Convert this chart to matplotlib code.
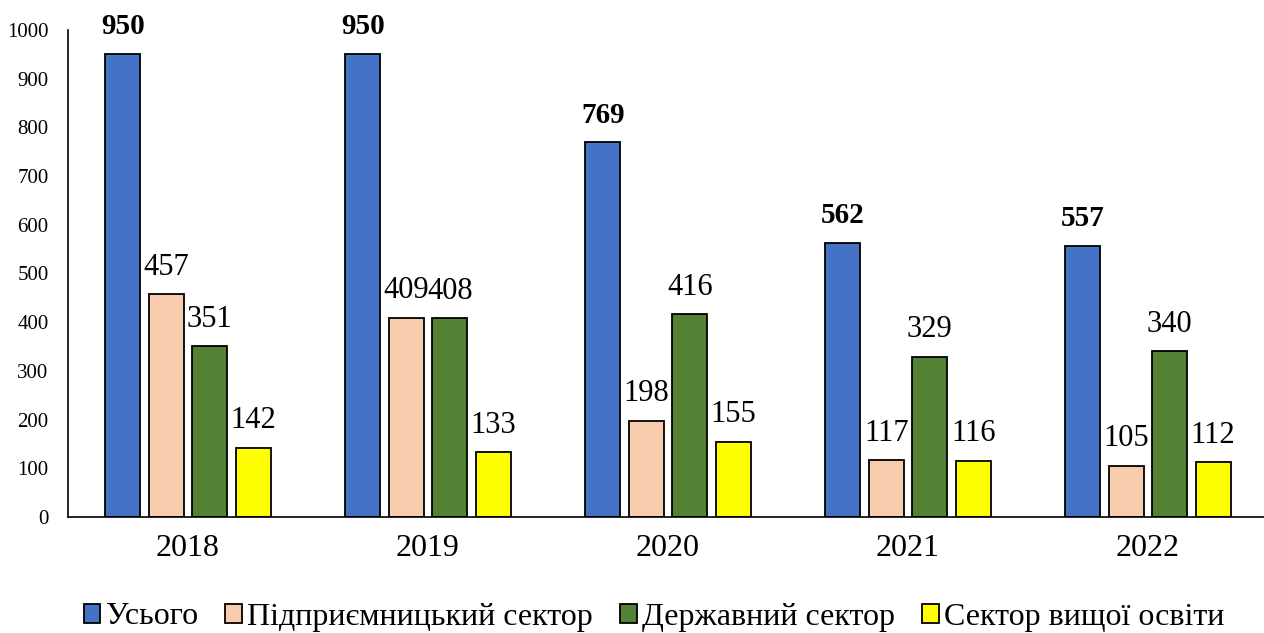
import numpy as np
import matplotlib.pyplot as plt

plt.rcParams['font.family'] = ['Liberation Serif', 'DejaVu Serif']

years = ['2018', '2019', '2020', '2021', '2022']
total = [950, 950, 769, 562, 557]
business = [457, 409, 198, 117, 105]
government = [351, 408, 416, 329, 340]
higher_ed = [142, 133, 155, 116, 112]

series = [
    ('Усього', total, '#4472C4'),
    ('Підприємницький сектор', business, '#F8CBAD'),
    ('Державний сектор', government, '#548235'),
    ('Сектор вищої освіти', higher_ed, '#FFFF00'),
]

fig = plt.figure(figsize=(12.64, 6.33), dpi=100)
ax = fig.add_axes([68 / 1264, 116 / 633, 1200 / 1264, 487 / 633])

x = np.arange(len(years))
pitch = 0.181
width = 0.146
for i, (name, vals, col) in enumerate(series):
    pos = x + (i - 1.5) * pitch
    bars = ax.bar(pos, vals, width, color=col, edgecolor='black', linewidth=1.3, label=name)
    if i == 0:
        ax.bar_label(bars, padding=10, fontsize=21, fontweight='bold')
    else:
        ax.bar_label(bars, padding=9, fontsize=22)

ax.set_xlim(-0.5, 4.5)
ax.set_ylim(0, 1000)
ax.set_yticks(range(0, 1001, 100))
ax.set_xticks(x)
ax.set_xticklabels(years, fontsize=23)
ax.tick_params(axis='y', labelsize=15, length=0, pad=14)
ax.tick_params(axis='x', length=0, pad=12)
for s in ['top', 'right']:
    ax.spines[s].set_visible(False)
ax.spines['left'].set_linewidth(1.2)
ax.spines['bottom'].set_linewidth(1.2)

fig.legend(loc='center', bbox_to_anchor=(654 / 1264, 1 - 617 / 633), ncol=4, frameon=False,
           fontsize=23, handlelength=0.53, handleheight=0.53, handletextpad=0.16,
           columnspacing=0.85, borderpad=0)

fig.savefig('out.png', dpi=100)
